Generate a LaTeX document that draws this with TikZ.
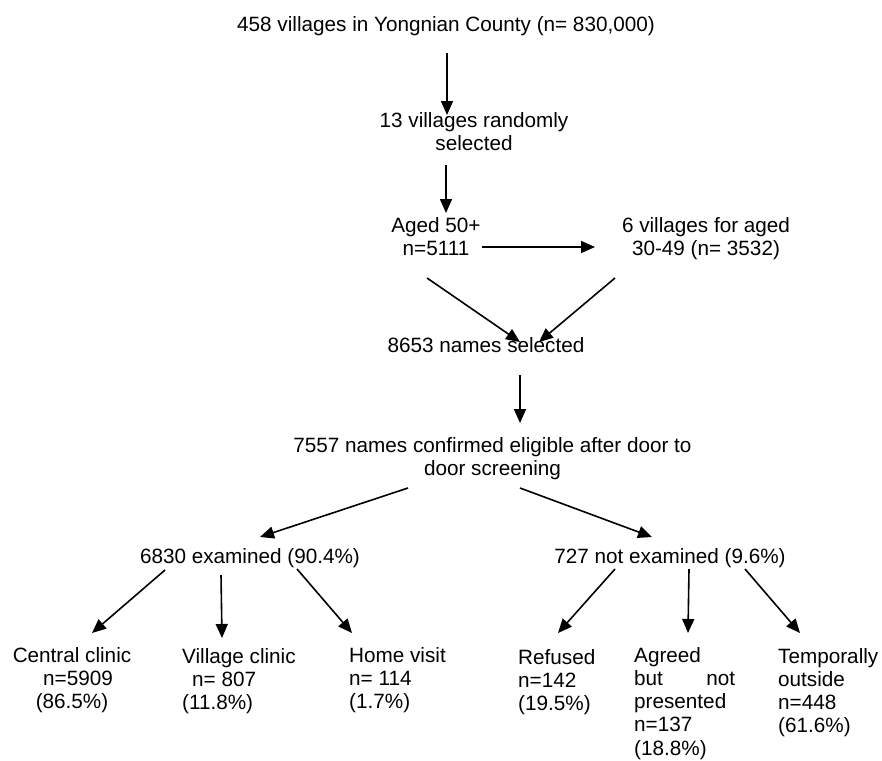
\documentclass[tikz,border=0pt]{standalone}
\usepackage{fontspec}
\setmainfont{Liberation Sans}
\usepackage{tikz}
\usetikzlibrary{arrows.meta,calc}

\begin{document}
\begin{tikzpicture}[x=1pt,y=-1pt,
    every node/.style={inner sep=0pt,font=\fontsize{20.7}{23.3}\selectfont},
    arr/.style={line width=1.6pt,-{Triangle[length=14pt,width=12pt]}}]
    \useasboundingbox (0,0) rectangle (882,760);

    % top part (base = baseline of the last line)
    \node[anchor=base] (title) at (446,32) {458 villages in Yongnian County (n= 830,000)};
    \node[anchor=base,align=center] (sel13) at (474,150.3) {13 villages randomly\\selected};
    \node[anchor=base,align=center] (aged) at (436,255.3) {Aged 50+\\n=5111};
    \node[anchor=base,align=center] (six) at (706,255.3) {6 villages for aged\\30-49 (n= 3532)};
    \node[anchor=base] (names) at (486,352) {8653 names selected};
    \node[anchor=base,align=center] (elig) at (492.5,475.3) {7557 names confirmed eligible after door to\\door screening};

    % examined or not
    \node[anchor=base] (exam) at (250,563) {6830 examined (90.4\%)};
    \node[anchor=base] (notex) at (670,563) {727 not examined (9.6\%)};

    % bottom row
    \node[anchor=base,align=center] (central) at (72,708.6) {Central clinic\\\hspace{12pt}n=5909\\(86.5\%)};
    \node[anchor=base west,align=left] (vclinic) at (182,709.6) {Village clinic\\\hspace{10pt}n= 807\\(11.8\%)};
    \node[anchor=base west,align=left] (home) at (349,708.6) {Home visit\\n= 114\\(1.7\%)};
    \node[anchor=base west,align=left] (refused) at (518,710.6) {Refused\\n=142\\(19.5\%)};
    \node[anchor=base west,align=left] (agreed) at (634,755.2) {Agreed\\\makebox[101pt][s]{but\hfill not}\\presented\\n=137\\(18.8\%)};
    \node[anchor=base west,align=left] (temp) at (778,732.9) {Temporally\\outside\\n=448\\(61.6\%)};

    % arrows
    \draw[arr] ($(title.base)+(1,21)$) -- ($(sel13.base)+(-27,-35.3)$);
    \draw[arr] ($(sel13.base)+(-28,14.7)$) -- ($(aged.base)+(10,-42.3)$);
    \draw[arr] ($(aged.base)+(46,-8.3)$) -- ($(six.base)+(-111,-8.3)$);
    \draw[arr] ($(aged.base)+(-9,22.7)$) -- ($(names.base)+(34,-10)$);
    \draw[arr] ($(six.base)+(-91,22.7)$) -- ($(names.base)+(53,-10)$);
    \draw[arr] ($(names.base)+(34,23)$) -- ($(elig.base)+(27.5,-52.3)$);
    \draw[arr] ($(elig.base)+(-84.5,12.7)$) -- ($(exam.base)+(10,-26)$);
    \draw[arr] ($(elig.base)+(27.5,12.7)$) -- ($(notex.base)+(-18,-26)$);
    \draw[arr] ($(exam.base)+(-85,7)$) -- ($(central.base)+(20,-75.6)$);
    \draw[arr] ($(exam.base)+(-29,12)$) -- ($(vclinic.base west)+(40,-71.6)$);
    \draw[arr] ($(exam.base)+(47,6)$) -- ($(home.base west)+(3,-75.6)$);
    \draw[arr] ($(notex.base)+(-55,6)$) -- ($(refused.base west)+(40,-77.6)$);
    \draw[arr] ($(notex.base)+(19,6)$) -- ($(agreed.base west)+(54,-122.2)$);
    \draw[arr] ($(notex.base)+(75,6)$) -- ($(temp.base west)+(22,-99.9)$);
\end{tikzpicture}
\end{document}
